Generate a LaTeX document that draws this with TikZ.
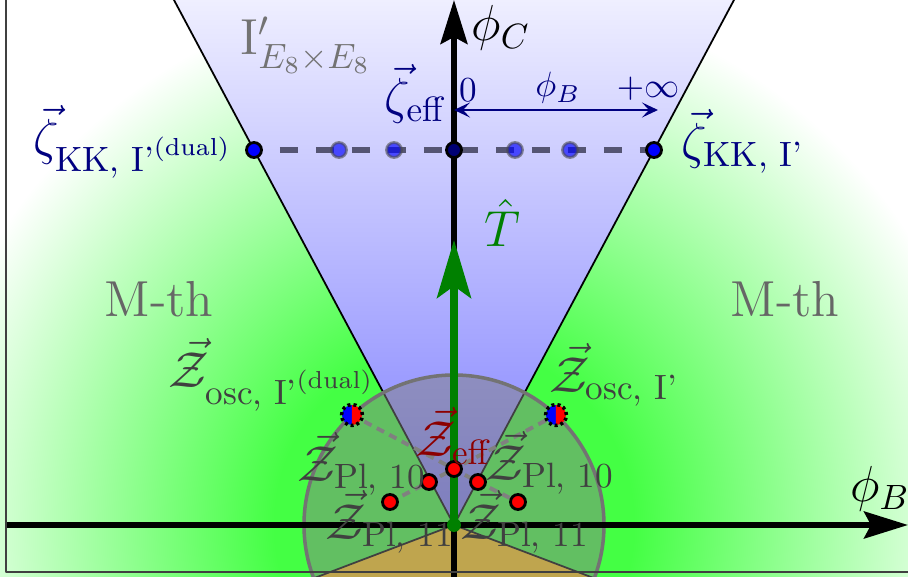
\documentclass[tikz,border=0pt]{standalone}
\usepackage{amsmath}
\usetikzlibrary{arrows.meta}
\definecolor{mthgreen}{RGB}{68,255,68}
\pgfdeclareradialshading{mthglow}{\pgfpoint{0bp}{0bp}}{color(0bp)=(mthgreen); color(4.5bp)=(mthgreen); color(13.5bp)=(white); color(50bp)=(white)}
\begin{document}
\begin{tikzpicture}[line cap=round, line join=round,
  axis/.style={line width=1.5pt, line cap=butt, -{Stealth[length=4.4mm,width=2.7mm,inset=0.7mm]}},
  kkdot/.style={fill=blue, draw=black, line width=0.8pt},
  ghostdot/.style={fill=blue, fill opacity=0.65, draw=black!70, draw opacity=0.6, line width=0.8pt},
  zdot/.style={fill=red, draw=black, line width=0.8pt},
  zlink/.style={black!50, line width=1.1pt, line cap=butt, dash pattern=on 2.3pt off 1.7pt},
  lbl/.style={inner sep=0pt, font=\Large}]
  \definecolor{wedgeblue}{RGB}{125,125,255}
  \definecolor{goldwedge}{RGB}{255,204,28}
  \definecolor{zetanavy}{RGB}{0,0,128}
  \definecolor{effred}{RGB}{140,0,0}
  \definecolor{tgreen}{RGB}{0,128,0}
  \definecolor{kkdash}{RGB}{85,85,115}
  \clip (-4.54,-0.52) rectangle (4.54,5.25);
  \coordinate (O) at (0,0);
  \coordinate (wl) at (-3.2,6);
  \coordinate (wr) at (3.2,6);
  \coordinate (bl) at (200.8:3);
  \coordinate (br) at (-20.8:3);
  \coordinate (kkd) at (-2,3.75);
  \coordinate (kk) at (2,3.75);
  \coordinate (zeff) at (0,3.75);
  \coordinate (arL) at (0,4.15);
  \coordinate (arR) at (2.04,4.15);
  \coordinate (oscd) at (-1.02,1.10);
  \coordinate (osc) at (1.02,1.10);
  \coordinate (eff) at (0,0.56);
  \coordinate (pla) at (-0.25,0.43);
  \coordinate (plb) at (0.24,0.43);
  \coordinate (plc) at (-0.64,0.23);
  \coordinate (pld) at (0.64,0.23);
  \shade[shading=mthglow] (O) circle (10);
  \shade[top color=white, bottom color=wedgeblue] (O) -- (wl) -- (wr) -- cycle;
  \fill[goldwedge] (O) -- (bl) -- (br) -- cycle;
  \draw[line width=0.5pt] (wl) -- (O) -- (wr);
  \draw[line width=0.5pt] (bl) -- (O) -- (br);
  \filldraw[fill=gray, fill opacity=0.5, draw=black!55, line width=1pt] (O) circle (1.5);
  \draw[axis] (-4.49,0) -- (4.54,0);
  \draw[axis] (0,-0.52) -- (0,5.25);
  \draw[tgreen, line width=2pt, line cap=butt, -{Stealth[length=5.8mm,width=3.4mm,inset=1.2mm]}] (O) -- (0,2.85);
  \draw[kkdash, line width=1.7pt, line cap=butt, dash pattern=on 0.18cm off 0.18cm, dash phase=0.1cm] (kkd) -- (kk);
  \foreach \x in {-1.15,-0.6,0.61,1.16}
    \draw[ghostdot] (\x,3.75) circle (0.075);
  \draw[kkdot] (kkd) circle (0.075);
  \draw[kkdot] (kk) circle (0.075);
  \draw[kkdot, fill=blue!45!black] (zeff) circle (0.075);
  \draw[zetanavy, line width=0.7pt, {Stealth[length=1.6mm,width=1.5mm,inset=0.7mm]}-{Stealth[length=1.6mm,width=1.5mm,inset=0.7mm]}] (arL) -- (arR);
  \draw[zlink] (oscd) -- (eff) -- (osc);
  \draw[zlink] (plc) -- (pla) -- (eff) -- (plb) -- (pld);
  \foreach \p in {eff,pla,plb,plc,pld}
    \draw[zdot] (\p) circle (0.075);
  \foreach \p in {oscd,osc} {
    \fill[blue] (\p) ++(0,0.1) arc[start angle=90,end angle=270,radius=0.1] -- cycle;
    \fill[red] (\p) ++(0,-0.1) arc[start angle=-90,end angle=90,radius=0.1] -- cycle;
    \draw[line width=1pt, line cap=butt, dash pattern=on 0.85pt off 0.85pt] (\p) circle (0.105);
  }
  \fill[tgreen] (O) circle (0.07);
  \node[lbl] (phic) at (0.47,4.97) {$\phi_C$};
  \node[lbl] (phib) at (4.26,0.36) {$\phi_B$};
  \node[inner sep=0pt, zetanavy] (zero) at (0.14,4.35) {$0$};
  \node[inner sep=0pt, zetanavy] (phibar) at (1.04,4.37) {$\phi_B$};
  \node[inner sep=0pt, zetanavy] (infty) at (1.94,4.36) {$+\infty$};
  \node[lbl, zetanavy] (zetaeff) at (-0.38,4.31) {$\vec{\zeta}_{\rm eff}$};
  \node[lbl, black!55] (ieight) at (-1.48,4.80) {$\mathrm{I}'_{E_8\times E_8}$};
  \node[lbl, zetanavy] (zetakkd) at (-3.21,3.83) {$\vec{\zeta}_{\text{KK, I'}^{\text{(dual)}}}$};
  \node[lbl, zetanavy] (zetakk) at (2.89,3.84) {$\vec{\zeta}_{\text{KK, I'}}$};
  \node[lbl, tgreen] (that) at (0.48,3.02) {$\hat{T}$};
  \node[lbl, black!60] (mthl) at (-2.95,2.26) {M-th};
  \node[lbl, black!60] (mthr) at (3.31,2.26) {M-th};
  \node[lbl, black!75] (zoscd) at (-1.82,1.50) {$\vec{\mathcal{Z}}_{\text{osc, I'}^{\text{(dual)}}}$};
  \node[lbl, black!75] (zosc) at (1.60,1.50) {$\vec{\mathcal{Z}}_{\text{osc, I'}}$};
  \node[lbl, effred] (zeffl) at (0,0.89) {$\vec{\mathcal{Z}}_{\rm eff}$};
  \node[lbl, black!75] (zpla) at (-0.92,0.61) {$\vec{\mathcal{Z}}_{\text{Pl, 10}}$};
  \node[lbl, black!75] (zplb) at (0.96,0.62) {$\vec{\mathcal{Z}}_{\text{Pl, 10}}$};
  \node[lbl, black!75] (zplc) at (-0.64,0.03) {$\vec{\mathcal{Z}}_{\text{Pl, 11}}$};
  \node[lbl, black!75] (zpld) at (0.71,0.03) {$\vec{\mathcal{Z}}_{\text{Pl, 11}}$};
  \draw[black!75, line width=0.6pt] (-4.48,-0.47) rectangle (4.8,5.6);
\end{tikzpicture}
\end{document}
